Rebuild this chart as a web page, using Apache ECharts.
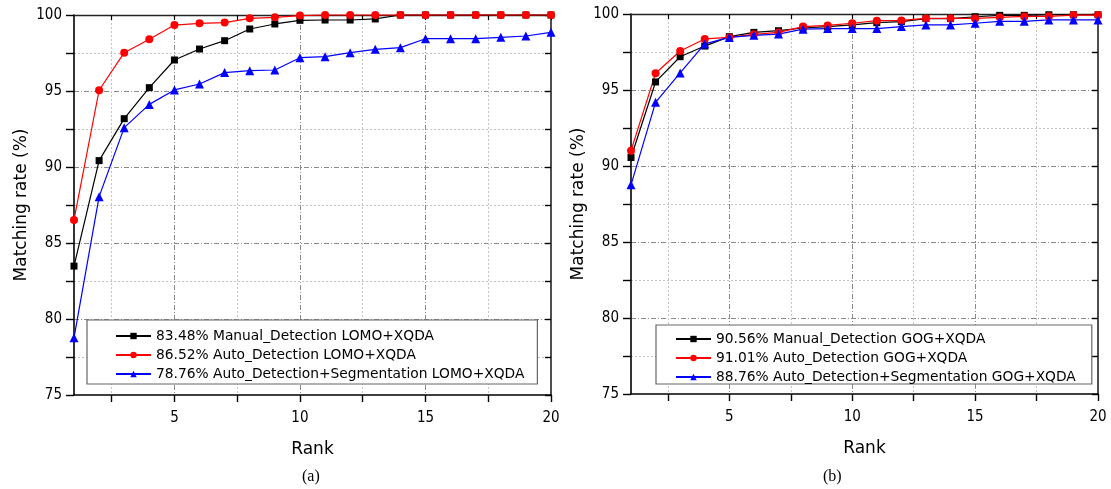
<!DOCTYPE html>
<html><head><meta charset="utf-8">
<script src="https://cdn.jsdelivr.net/npm/echarts@6/dist/echarts.min.js"></script>
<style>html,body{margin:0;padding:0;background:#fff}#c{width:1111px;height:489px}</style>
</head><body><div id="c"></div>
<script>
const ranks = [1,2,3,4,5,6,7,8,9,10,11,12,13,14,15,16,17,18,19,20];
const lomoManual = [83.48,90.42,93.18,95.22,97.04,97.76,98.31,99.08,99.41,99.65,99.67,99.67,99.74,100,100,100,100,100,100,100];
const lomoAuto = [86.52,95.05,97.52,98.40,99.34,99.45,99.50,99.78,99.85,99.96,100,100,100,100,100,100,100,100,100,100];
const lomoSeg = [78.76,88.05,92.59,94.12,95.07,95.46,96.21,96.34,96.38,97.19,97.26,97.52,97.74,97.85,98.44,98.44,98.44,98.53,98.62,98.86];
const gogManual = [90.56,95.53,97.19,97.89,98.51,98.79,98.90,99.08,99.17,99.28,99.43,99.50,99.70,99.70,99.82,99.91,99.91,99.95,99.95,99.95];
const gogAuto = [91.01,96.10,97.57,98.36,98.46,98.66,98.79,99.17,99.25,99.39,99.56,99.58,99.71,99.71,99.71,99.78,99.84,99.85,99.93,99.93];
const gogSeg = [88.76,94.19,96.12,98.03,98.46,98.60,98.68,99.00,99.04,99.04,99.04,99.17,99.28,99.28,99.39,99.52,99.52,99.61,99.61,99.61];
const namesA = ['83.48% Manual_Detection LOMO+XQDA','86.52% Auto_Detection LOMO+XQDA','78.76% Auto_Detection+Segmentation LOMO+XQDA'];
const namesB = ['90.56% Manual_Detection GOG+XQDA','91.01% Auto_Detection GOG+XQDA','88.76% Auto_Detection+Segmentation GOG+XQDA'];
const xTicks = [2.5,5,7.5,10,12.5,15,17.5,20];
const xLabels = [5,10,15,20];
const xMajor = [5,10,15];
const xMinor = [2.5,7.5,12.5,17.5];
const yTicks = [75,77.5,80,82.5,85,87.5,90,92.5,95,97.5,100];
const yLabels = [75,80,85,90,95,100];
const yMajor = [80,85,90,95];
const yMinor = [77.5,82.5,87.5,92.5,97.5];
const xMin = 1, xMax = 20, yMin = 75, yMax = 100;
const captions = ['(a)','(b)'];

const tickFont = {fontFamily:'DejaVu Sans Condensed, Liberation Sans Narrow, sans-serif', fontSize:15, color:'#000'};
const axisLine = {show:true, lineStyle:{color:'#000', width:1.6}};
const colors = ['#000000','#ff0000','#0000ff'];
const symbols = ['rect','circle','triangle'];
const sizes = [7,8,9];

const grids = [
  {left:74, right:560, top:15, bottom:94},
  {left:631, right:13, top:14, bottom:95}
];
const legendPos = [
  {left:87, top:320, padding:[9,13,3,28]},
  {left:656, top:325, padding:[7,16,0,19]}
];
const xAxis = [], yAxis = [], series = [], legend = [], graphic = [];
const datasets = [[lomoManual,lomoAuto,lomoSeg],[gogManual,gogAuto,gogSeg]];
const names = [namesA, namesB];

grids.forEach((g, gi) => {
  const base = xAxis.length;
  xAxis.push({type:'value', gridIndex:gi, min:xMin, max:xMax, position:'bottom',
    axisLine, axisTick:{show:true, inside:false, length:7, customValues:xTicks, lineStyle:{color:'#000', width:1.4}},
    axisLabel:{show:true, customValues:xLabels, margin:16, ...tickFont},
    splitLine:{show:false},
    name:'Rank', nameLocation:'middle', nameGap:46,
    nameTextStyle:{fontFamily:'DejaVu Sans, sans-serif', fontSize:17, color:'#000'}});
  xAxis.push({type:'value', gridIndex:gi, min:xMin, max:xMax, position:'top',
    axisLine:{show:true, lineStyle:{color:'#222', width:1.3}},
    axisTick:{show:true, inside:true, length:5, customValues:xTicks, lineStyle:{color:'#000', width:1.2}},
    axisLabel:{show:false}, splitLine:{show:false}});
  xAxis.push({type:'value', gridIndex:gi, min:xMin, max:xMax, position:'bottom',
    axisLine:{show:false}, axisTick:{show:false, customValues:xMajor}, axisLabel:{show:false},
    splitLine:{show:true, lineStyle:{color:'#8a8a8a', width:1, type:[5,2,1,2]}}});
  xAxis.push({type:'value', gridIndex:gi, min:xMin, max:xMax, position:'bottom',
    axisLine:{show:false}, axisTick:{show:false, customValues:xMinor}, axisLabel:{show:false},
    splitLine:{show:true, lineStyle:{color:'#c4c4c4', width:1, type:[2,2]}}});

  const ybase = yAxis.length;
  yAxis.push({type:'value', gridIndex:gi, min:yMin, max:yMax, position:'left',
    axisLine, axisTick:{show:true, inside:false, length:8, customValues:yTicks, lineStyle:{color:'#000', width:1.4}},
    axisLabel:{show:true, customValues:yLabels, margin:12, ...tickFont},
    splitLine:{show:false},
    name:'Matching rate (%)', nameLocation:'middle', nameGap:44,
    nameTextStyle:{fontFamily:'DejaVu Sans, sans-serif', fontSize:17, color:'#000'}});
  yAxis.push({type:'value', gridIndex:gi, min:yMin, max:yMax, position:'right',
    axisLine:{show:true, lineStyle:{color:'#222', width:1.6}},
    axisTick:{show:true, inside:true, length:6, customValues:yTicks, lineStyle:{color:'#000', width:1.4}},
    axisLabel:{show:false}, splitLine:{show:false}});
  yAxis.push({type:'value', gridIndex:gi, min:yMin, max:yMax, position:'left',
    axisLine:{show:false}, axisTick:{show:false, customValues:yMajor}, axisLabel:{show:false},
    splitLine:{show:true, lineStyle:{color:'#8a8a8a', width:1, type:[5,2,1,2]}}});
  yAxis.push({type:'value', gridIndex:gi, min:yMin, max:yMax, position:'left',
    axisLine:{show:false}, axisTick:{show:false, customValues:yMinor}, axisLabel:{show:false},
    splitLine:{show:true, lineStyle:{color:'#c4c4c4', width:1, type:[2,2]}}});

  datasets[gi].forEach((vals, si) => {
    series.push({type:'line', name:names[gi][si], xAxisIndex:base, yAxisIndex:ybase,
      data: ranks.map((r, i) => [r, vals[i]]),
      symbol:symbols[si], symbolSize:sizes[si], clip:false,
      lineStyle:{color:colors[si], width:1.2}, itemStyle:{color:colors[si]},
      emphasis:{disabled:true}, animation:false, z:3});
  });

  legend.push({orient:'vertical', data:names[gi],
    left:legendPos[gi].left, top:legendPos[gi].top, padding:legendPos[gi].padding,
    itemGap:5, itemWidth:35, itemHeight:8,
    backgroundColor:'#fff', borderColor:'#666', borderWidth:1.2,
    textStyle:{fontFamily:'DejaVu Sans, sans-serif', fontSize:13.8, color:'#000'},
    selectedMode:false, z:5});
});

graphic.push({type:'text', left:302, top:469, style:{text:captions[0], font:'16px "Liberation Serif", serif', fill:'#000'}});
graphic.push({type:'text', left:823, top:469, style:{text:captions[1], font:'16px "Liberation Serif", serif', fill:'#000'}});

const chart = echarts.init(document.getElementById('c'), null, {renderer:'canvas'});
chart.setOption({animation:false, backgroundColor:'#fff', grid:grids, xAxis, yAxis, series, legend, graphic, tooltip:{show:false}});
</script></body></html>
